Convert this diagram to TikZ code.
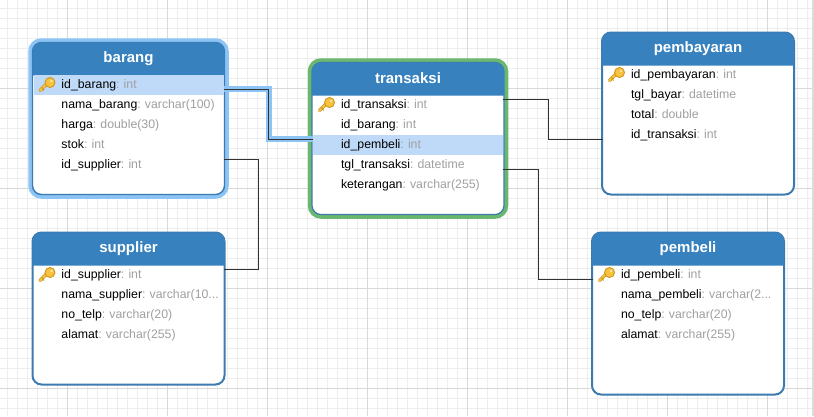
\documentclass[tikz,border=0pt]{standalone}
\usepackage{fontspec}
\setmainfont{Liberation Sans}
\usepackage{tikz}
\usetikzlibrary{positioning}
\definecolor{kepala}{RGB}{55,129,191}
\definecolor{tepi}{RGB}{60,122,176}
\definecolor{sorot}{RGB}{191,218,248}
\definecolor{halobiru}{RGB}{140,196,246}
\definecolor{hijau}{RGB}{106,184,112}
\definecolor{abu}{RGB}{160,160,160}
\definecolor{garis}{RGB}{50,50,50}
\definecolor{emas}{RGB}{247,194,60}
\definecolor{emastua}{RGB}{205,150,35}
\newcommand{\brs}{20}
\newcommand{\titik}{...}
\frenchspacing

\begin{document}
\begin{tikzpicture}[x=1pt,y=-1pt,
	tabel/.style={shape=rectangle,draw=tepi,fill=white,line width=2pt,
		rounded corners=9pt,minimum width=192pt,inner sep=0,outer sep=0,anchor=north west},
	polos/.style={},
	pilihbiru/.style={line width=1.4pt,preaction={draw=halobiru,line width=8.5pt}},
	pilihhijau/.style={line width=1.2pt,preaction={draw=hijau,line width=8.5pt}},
	judul/.style={text=white,font=\fontsize{15}{17}\selectfont\bfseries,inner sep=0},
	baris/.style={shape=rectangle,minimum width=190pt,minimum height=\brs pt,inner xsep=0,inner ysep=0,outer sep=0,
		text width=190pt,text height=9pt,text depth=3pt,align=left,anchor=north west,
		font=\fontsize{12.3}{14}\selectfont\frenchspacing,execute at begin node={\hspace*{28pt}}},
	biasa/.style={},
	pk/.style={fill=sorot},
	hub/.style={draw=garis,line width=0.9pt},
	hubpilih/.style={draw=halobiru,line width=6pt},
	kisi/.style={draw=black!7,line width=0.8pt},
	kisitebal/.style={draw=black!15,line width=0.9pt},
	kunci/.pic={
		\draw[emastua,line width=3.2pt,line cap=round] (-3,1) -- (-10,8);
		\draw[emas,line width=1.8pt,line cap=round] (-3,1) -- (-10,8);
		\draw[emastua,line width=1pt] (-8,5) -- (-6,8);
		\draw[emastua,fill=emas,line width=0.9pt] (0,0) circle (5);
		\fill[white!60!emas] (1.5,-1.5) circle (1.3);
	},
	]
	\useasboundingbox (0,0) rectangle (814,416);
	\fill[white] (0,0) rectangle (814,416);

	% kisi
	\foreach \i in {0,...,80}{\draw[kisi] ({7.5+\i*10},0) -- ({7.5+\i*10},416);}
	\foreach \j in {0,...,40}{\draw[kisi] (0,{8+\j*10}) -- (814,{8+\j*10});}
	\foreach \i in {0,...,7}{\draw[kisitebal] ({67.5+\i*100},0) -- ({67.5+\i*100},416);}
	\foreach \j in {0,...,3}{\draw[kisitebal] (0,{88+\j*100}) -- (814,{88+\j*100});}
	\fill[black!14] (812,0) rectangle (814,416);

	% tabel
	\foreach \nama/\x/\y/\h/\gaya in {barang/32.5/42.5/152/pilihbiru,supplier/32.5/232.5/152/polos,
		transaksi/312/62.5/152/pilihhijau,pembayaran/602/32.5/162/polos,pembeli/592/232.5/162/polos}{
		\node[tabel,\gaya,minimum height=\h pt] (\nama) at (\x,\y) {};
		\fill[kepala] ([yshift=-33pt]\nama.north west) [rounded corners=9pt] -- (\nama.north west)
			-- (\nama.north east) [sharp corners] -- ([yshift=-33pt]\nama.north east) -- cycle;
		\node[judul] (\nama judul) at ([yshift=-16pt]\nama.north) {\nama};
	}

	\foreach \kol/\tipe/\g [count=\i] in {id\_barang/int/pk,nama\_barang/varchar(100)/biasa,
		harga/double(30)/biasa,stok/int/biasa,id\_supplier/int/biasa}{
		\node[baris,\g] (b\i) at (33.5,{55+\i*\brs}) {\kol\textcolor{abu}{: \tipe}};}
	\foreach \kol/\tipe/\g [count=\i] in {id\_supplier/int/biasa,nama\_supplier/varchar(10\titik/biasa,
		no\_telp/varchar(20)/biasa,alamat/varchar(255)/biasa}{
		\node[baris,\g] (s\i) at (33.5,{245+\i*\brs}) {\kol\textcolor{abu}{: \tipe}};}
	\foreach \kol/\tipe/\g [count=\i] in {id\_transaksi/int/biasa,id\_barang/int/biasa,
		id\_pembeli/int/pk,tgl\_transaksi/datetime/biasa,keterangan/varchar(255)/biasa}{
		\node[baris,\g] (t\i) at (313,{75+\i*\brs}) {\kol\textcolor{abu}{: \tipe}};}
	\foreach \kol/\tipe/\g [count=\i] in {id\_pembayaran/int/biasa,tgl\_bayar/datetime/biasa,
		total/double/biasa,id\_transaksi/int/biasa}{
		\node[baris,\g] (y\i) at (603,{45+\i*\brs}) {\kol\textcolor{abu}{: \tipe}};}
	\foreach \kol/\tipe/\g [count=\i] in {id\_pembeli/int/biasa,nama\_pembeli/varchar(2\titik/biasa,
		no\_telp/varchar(20)/biasa,alamat/varchar(255)/biasa}{
		\node[baris,\g] (p\i) at (593,{245+\i*\brs}) {\kol\textcolor{abu}{: \tipe}};}

	\foreach \r in {b1,s1,t1,y1,p1}{\pic at ([xshift=16.5pt,yshift=2.5pt]\r.west) {kunci};}

	% relasi
	\draw[hubpilih] ([yshift=-4pt]b1.east) -- ++(45,0) |- ([yshift=6pt]t3.west);
	\draw[hub] ([yshift=-4pt]b1.east) -- ++(45,0) |- ([yshift=6pt]t3.west);
	\draw[hub] ([yshift=6pt]b5.east) -- ++(35,0) |- ([yshift=6pt]s1.east);
	\draw[hub] ([yshift=6pt]t1.east) -- ++(45,0) |- ([yshift=-4pt]y4.west);
	\draw[hub] ([yshift=-4pt]t4.east) -- ++(35,0) |- ([yshift=-4pt]p1.west);
\end{tikzpicture}
\end{document}
